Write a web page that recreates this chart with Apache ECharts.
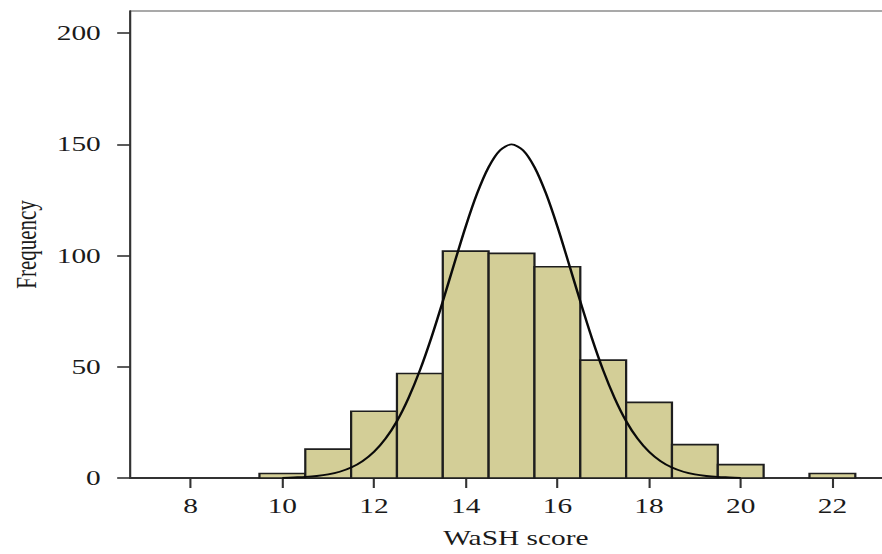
<!DOCTYPE html>
<html>
<head>
<meta charset="utf-8">
<script src="https://cdn.jsdelivr.net/npm/echarts@6.0.0/dist/echarts.min.js"></script>
<style>
html,body{margin:0;padding:0;width:882px;height:554px;overflow:hidden;background:#ffffff;}
#chart{width:644px;height:554px;transform:scaleX(1.4);transform-origin:0 0;}
</style>
</head>
<body>
<div id="chart"></div>
<script>
// Histogram bins (centre of each bin) and their frequencies
const scores = [10, 11, 12, 13, 14, 15, 16, 17, 18, 19, 20, 22];
const frequencies = [2, 13, 30, 47, 102, 101, 95, 53, 34, 15, 6, 2];
const binWidth = 1;

// Normal curve
const curveX = [10, 10.25, 10.5, 10.75, 11, 11.25, 11.5, 11.75, 12, 12.25, 12.5, 12.75, 13, 13.25, 13.5, 13.75, 14, 14.25, 14.5, 14.75, 15,
                15.25, 15.5, 15.75, 16, 16.25, 16.5, 16.75, 17, 17.25, 17.5, 17.75, 18, 18.25, 18.5, 18.75, 19, 19.25, 19.5, 19.75, 20];
const curveY = [0.1, 0.3, 0.5, 0.9, 1.6, 2.8, 4.7, 7.6, 11.8, 17.7, 25.6, 35.9, 48.4, 63.1, 79.4, 96.4, 113.1, 128.0, 139.8, 147.4, 150,
                147.4, 139.8, 128.0, 113.1, 96.4, 79.4, 63.1, 48.4, 35.9, 25.6, 17.7, 11.8, 7.6, 4.7, 2.8, 1.6, 0.9, 0.5, 0.3, 0.1];

// Tick labels
const xTicks = [8, 10, 12, 14, 16, 18, 20, 22];
const yTicks = [0, 50, 100, 150, 200];

const chart = echarts.init(document.getElementById('chart'), null, {renderer: 'svg'});

const fontFamily = '"Liberation Serif", "Times New Roman", serif';

const option = {
  animation: false,
  backgroundColor: '#ffffff',
  grid: {
    left: 90.9, right: 0, top: 11, bottom: 71.5,
    show: true, borderColor: '#555555', borderWidth: 1, backgroundColor: '#ffffff'
  },
  xAxis: {
    type: 'value',
    min: 6.68, max: 23.51,
    name: 'WaSH score',
    nameLocation: 'middle',
    nameGap: 50,
    nameTextStyle: {fontFamily: fontFamily, fontSize: 21, color: '#1a1a1a'},
    splitLine: {show: false},
    axisLine: {show: true, onZero: false, lineStyle: {color: '#333333', width: 1.8}},
    axisTick: {show: true, customValues: xTicks, length: 10, lineStyle: {color: '#333333', width: 1.5}},
    axisLabel: {show: true, customValues: xTicks, margin: 18, fontFamily: fontFamily, fontSize: 21, color: '#1a1a1a'}
  },
  yAxis: {
    type: 'value',
    min: 0, max: 210,
    name: 'Frequency',
    nameLocation: 'middle',
    nameGap: 64,
    nameTextStyle: {fontFamily: fontFamily, fontSize: 21, color: '#1a1a1a'},
    splitLine: {show: false},
    axisLine: {show: true, onZero: false, lineStyle: {color: '#333333', width: 1.5}},
    axisTick: {show: true, customValues: yTicks, length: 9.3, lineStyle: {color: '#333333', width: 1.6}},
    axisLabel: {show: true, customValues: yTicks, margin: 21, fontFamily: fontFamily, fontSize: 21, color: '#1a1a1a'}
  },
  series: [
    {
      type: 'custom',
      z: 2,
      data: scores.map((s, i) => [s, frequencies[i]]),
      renderItem: function (params, api) {
        const x = api.value(0);
        const y = api.value(1);
        const p0 = api.coord([x - binWidth / 2, y]);
        const p1 = api.coord([x + binWidth / 2, 0]);
        return {
          type: 'rect',
          shape: {x: p0[0], y: p0[1], width: p1[0] - p0[0], height: p1[1] - p0[1]},
          style: {fill: '#D3CE97', stroke: '#1e1e1e', lineWidth: 1.6}
        };
      }
    },
    {
      type: 'line',
      z: 3,
      data: curveX.map((x, i) => [x, curveY[i]]),
      smooth: 0.3,
      showSymbol: false,
      symbol: 'none',
      lineStyle: {color: '#0a0a0a', width: 1.8}
    }
  ]
};

chart.setOption(option);
</script>
</body>
</html>
